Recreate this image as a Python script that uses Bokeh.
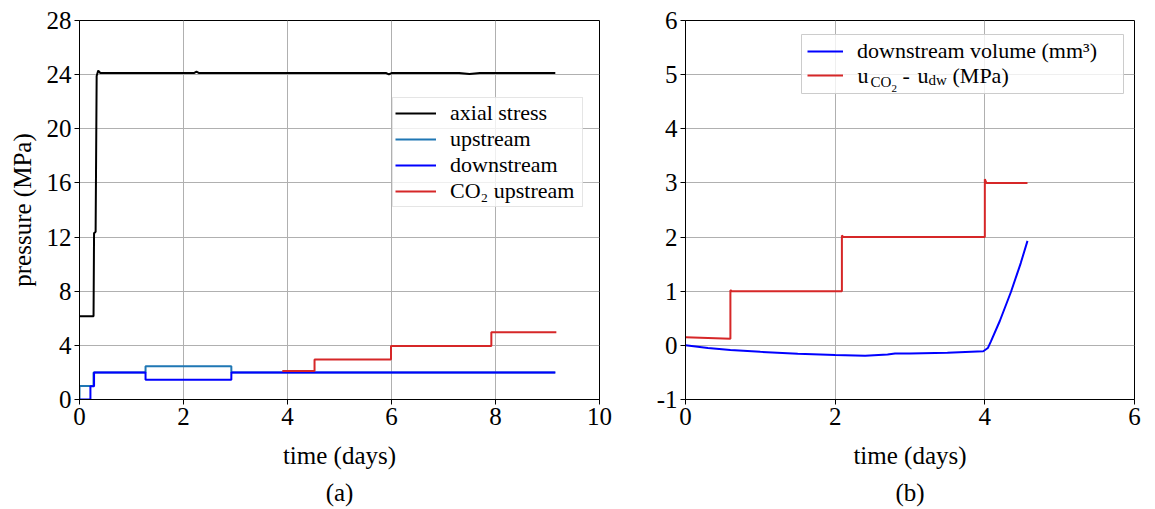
from bokeh.plotting import figure
from bokeh.models import Legend, LegendItem, Label, Title, FixedTicker, Range1d, BoxAnnotation
from bokeh.layouts import row
from bokeh.embed import file_html
from bokeh.resources import INLINE

FONT = "Liberation Serif"

# ---------------- data: panel (a) ----------------
axial_t = [0.0, 0.27, 0.28, 0.30, 0.31, 0.33, 0.36, 0.40, 1.0, 2.2, 2.25, 2.3, 4.0,
           5.5, 5.9, 5.95, 6.0, 7.3, 7.5, 7.7, 8.5, 9.15]
axial_p = [6.15, 6.15, 12.3, 12.35, 12.4, 23.9, 24.3, 24.12, 24.12, 24.12, 24.22, 24.12, 24.12,
           24.12, 24.12, 24.02, 24.12, 24.12, 24.05, 24.12, 24.12, 24.12]

up_t = [0.0, 0.0, 0.27, 0.27, 1.27, 1.27, 2.92, 2.92, 9.15]
up_p = [0.0, 1.0, 1.0, 2.0, 2.0, 2.45, 2.45, 2.0, 2.0]

down_t = [0.0, 0.21, 0.21, 0.28, 0.28, 1.27, 1.27, 2.92, 2.92, 9.15]
down_p = [0.0, 0.0, 0.97, 0.97, 2.0, 2.0, 1.45, 1.45, 2.0, 2.0]

co2_t = [3.9, 4.52, 4.52, 5.99, 5.99, 7.92, 7.92, 9.17]
co2_p = [2.1, 2.1, 2.95, 2.95, 3.95, 3.95, 4.97, 4.97]

# ---------------- data: panel (b) ----------------
vol_t = [0.0, 0.3, 0.6, 1.0, 1.5, 2.0, 2.4, 2.7, 2.8, 3.0, 3.5, 3.98, 4.04, 4.08,
         4.2, 4.35, 4.48, 4.57]
vol_v = [0.0, -0.05, -0.085, -0.12, -0.155, -0.18, -0.19, -0.17, -0.15, -0.15, -0.135,
         -0.11, -0.05, 0.07, 0.45, 0.99, 1.52, 1.93]

du_t = [0.0, 0.6, 0.6, 0.62, 2.09, 2.09, 2.11, 4.0, 4.0, 4.02, 4.57]
du_v = [0.15, 0.12, 1.02, 1.0, 1.0, 2.03, 2.0, 2.0, 3.07, 3.0, 3.0]

x_ticks_a = [0, 2, 4, 6, 8, 10]
y_ticks_a = [0, 4, 8, 12, 16, 20, 24, 28]
x_ticks_b = [0, 2, 4, 6]
y_ticks_b = [-1, 0, 1, 2, 3, 4, 5, 6]


def style(p, xt, yt):
    p.outline_line_color = "black"
    p.outline_line_width = 1
    p.outline_line_alpha = 1
    p.background_fill_color = "white"
    p.border_fill_color = "white"
    p.xaxis.ticker = FixedTicker(ticks=xt)
    p.yaxis.ticker = FixedTicker(ticks=yt)
    p.yaxis.major_label_overrides = {t: ("-%d" % -t if t < 0 else str(t)) for t in yt}
    p.xaxis.major_label_overrides = {t: str(t) for t in xt}
    for ax in p.axis:
        ax.major_label_text_font = FONT
        ax.major_label_text_font_size = "25px"
        ax.major_label_text_font_style = "normal"
        ax.major_label_text_color = "black"
        ax.axis_label_text_font = FONT
        ax.axis_label_text_font_size = "25px"
        ax.axis_label_text_font_style = "normal"
        ax.axis_label_text_color = "black"
        ax.major_tick_out = 5
        ax.major_tick_in = 0
        ax.minor_tick_out = 0
        ax.minor_tick_in = 0
        ax.axis_line_color = "black"
        ax.major_tick_line_color = "black"
        ax.major_label_standoff = 3
    p.grid.grid_line_color = "#b0b0b0"
    p.grid.grid_line_width = 1


def style_legend(lg):
    lg.label_text_font = FONT
    lg.label_text_font_size = "22px"
    lg.label_text_color = "black"
    lg.spacing = 0
    lg.margin = 0
    lg.label_standoff = 14


# ---------------- panel (a) ----------------
p1 = figure(x_range=Range1d(0, 10), y_range=Range1d(0, 28),
            frame_width=520, frame_height=379,
            min_border_left=79, min_border_right=46, min_border_top=20, min_border_bottom=0,
            output_backend="svg", toolbar_location=None, title_location=None)
style(p1, x_ticks_a, y_ticks_a)
p1.xaxis.axis_label = "time (days)"
p1.yaxis.axis_label = "pressure (MPa)"
p1.yaxis.axis_label_standoff = 8
p1.xaxis.axis_label_standoff = 14

r_ax = p1.line(axial_t, axial_p, line_color="black", line_width=2)
r_up = p1.line(up_t, up_p, line_color="#1f77b4", line_width=2)
r_dn = p1.line(down_t, down_p, line_color="#0000ff", line_width=2)
r_co = p1.line(co2_t, co2_p, line_color="#d62728", line_width=2)

leg1 = Legend(items=[LegendItem(label="axial stress", renderers=[r_ax]),
                     LegendItem(label="upstream", renderers=[r_up]),
                     LegendItem(label="downstream", renderers=[r_dn]),
                     LegendItem(label="CO₂ upstream", renderers=[r_co])],
              location=(313, 192), label_width=130)
style_legend(leg1)
leg1.glyph_width = 41
leg1.glyph_height = 24
leg1.label_height = 24
leg1.padding = 2
leg1.border_line_color = "#cccccc"
leg1.background_fill_alpha = 0.8
p1.add_layout(leg1)
p1.add_layout(Title(text="(a)", align="center", text_font=FONT, text_font_size="25px",
                    text_font_style="normal", text_color="black"), "below")

# ---------------- panel (b) ----------------
p2 = figure(x_range=Range1d(0, 6), y_range=Range1d(-1, 6),
            frame_width=449, frame_height=379,
            min_border_left=40, min_border_right=12, min_border_top=20, min_border_bottom=0,
            output_backend="svg", toolbar_location=None, title_location=None)
style(p2, x_ticks_b, y_ticks_b)
p2.xaxis.axis_label = "time (days)"
p2.xaxis.axis_label_standoff = 14

r_vol = p2.line(vol_t, vol_v, line_color="#0000ff", line_width=2)
r_du = p2.line(du_t, du_v, line_color="#d62728", line_width=2)

# legend frame of panel (b)
p2.add_layout(BoxAnnotation(left=116, right=438, bottom=306, top=365,
                            left_units="screen", right_units="screen",
                            bottom_units="screen", top_units="screen",
                            fill_color="white", fill_alpha=0.8,
                            line_color="#cccccc", line_width=1, line_alpha=1))

# one single-row legend per entry, rows exactly 40 px tall and centred on the swatch
leg2a = Legend(items=[LegendItem(label="downstream volume (mm³)", renderers=[r_vol])],
               location=(122, 328))
leg2b = Legend(items=[LegendItem(label=" ", renderers=[r_du])],
               location=(122, 304))
for lg in (leg2a, leg2b):
    style_legend(lg)
    lg.glyph_width = 36
    lg.glyph_height = 40
    lg.label_height = 40
    lg.padding = 0
    lg.border_line_color = None
    lg.background_fill_alpha = 0.0
    p2.add_layout(lg)

# composed label "u_CO2 - u_dw (MPa)" for the second legend row
parts = [("u", 172, 324, "22px"), ("CO", 185, 318, "15px"), ("2", 206, 311, "11px"),
         ("-", 217, 324, "22px"), ("u", 232, 324, "22px"), ("dw", 243, 320, "15px"),
         ("(MPa)", 267, 324, "22px")]
for txt, sx, sy, fs in parts:
    p2.add_layout(Label(x=sx, y=sy, x_units="screen", y_units="screen", text=txt,
                        text_font=FONT, text_font_size=fs, text_color="black",
                        text_baseline="middle", text_align="left"))

p2.add_layout(Title(text="(b)", align="center", text_font=FONT, text_font_size="25px",
                    text_font_style="normal", text_color="black"), "below")

layout = row(p1, p2)
open("out.html", "w").write(file_html(layout, INLINE))
